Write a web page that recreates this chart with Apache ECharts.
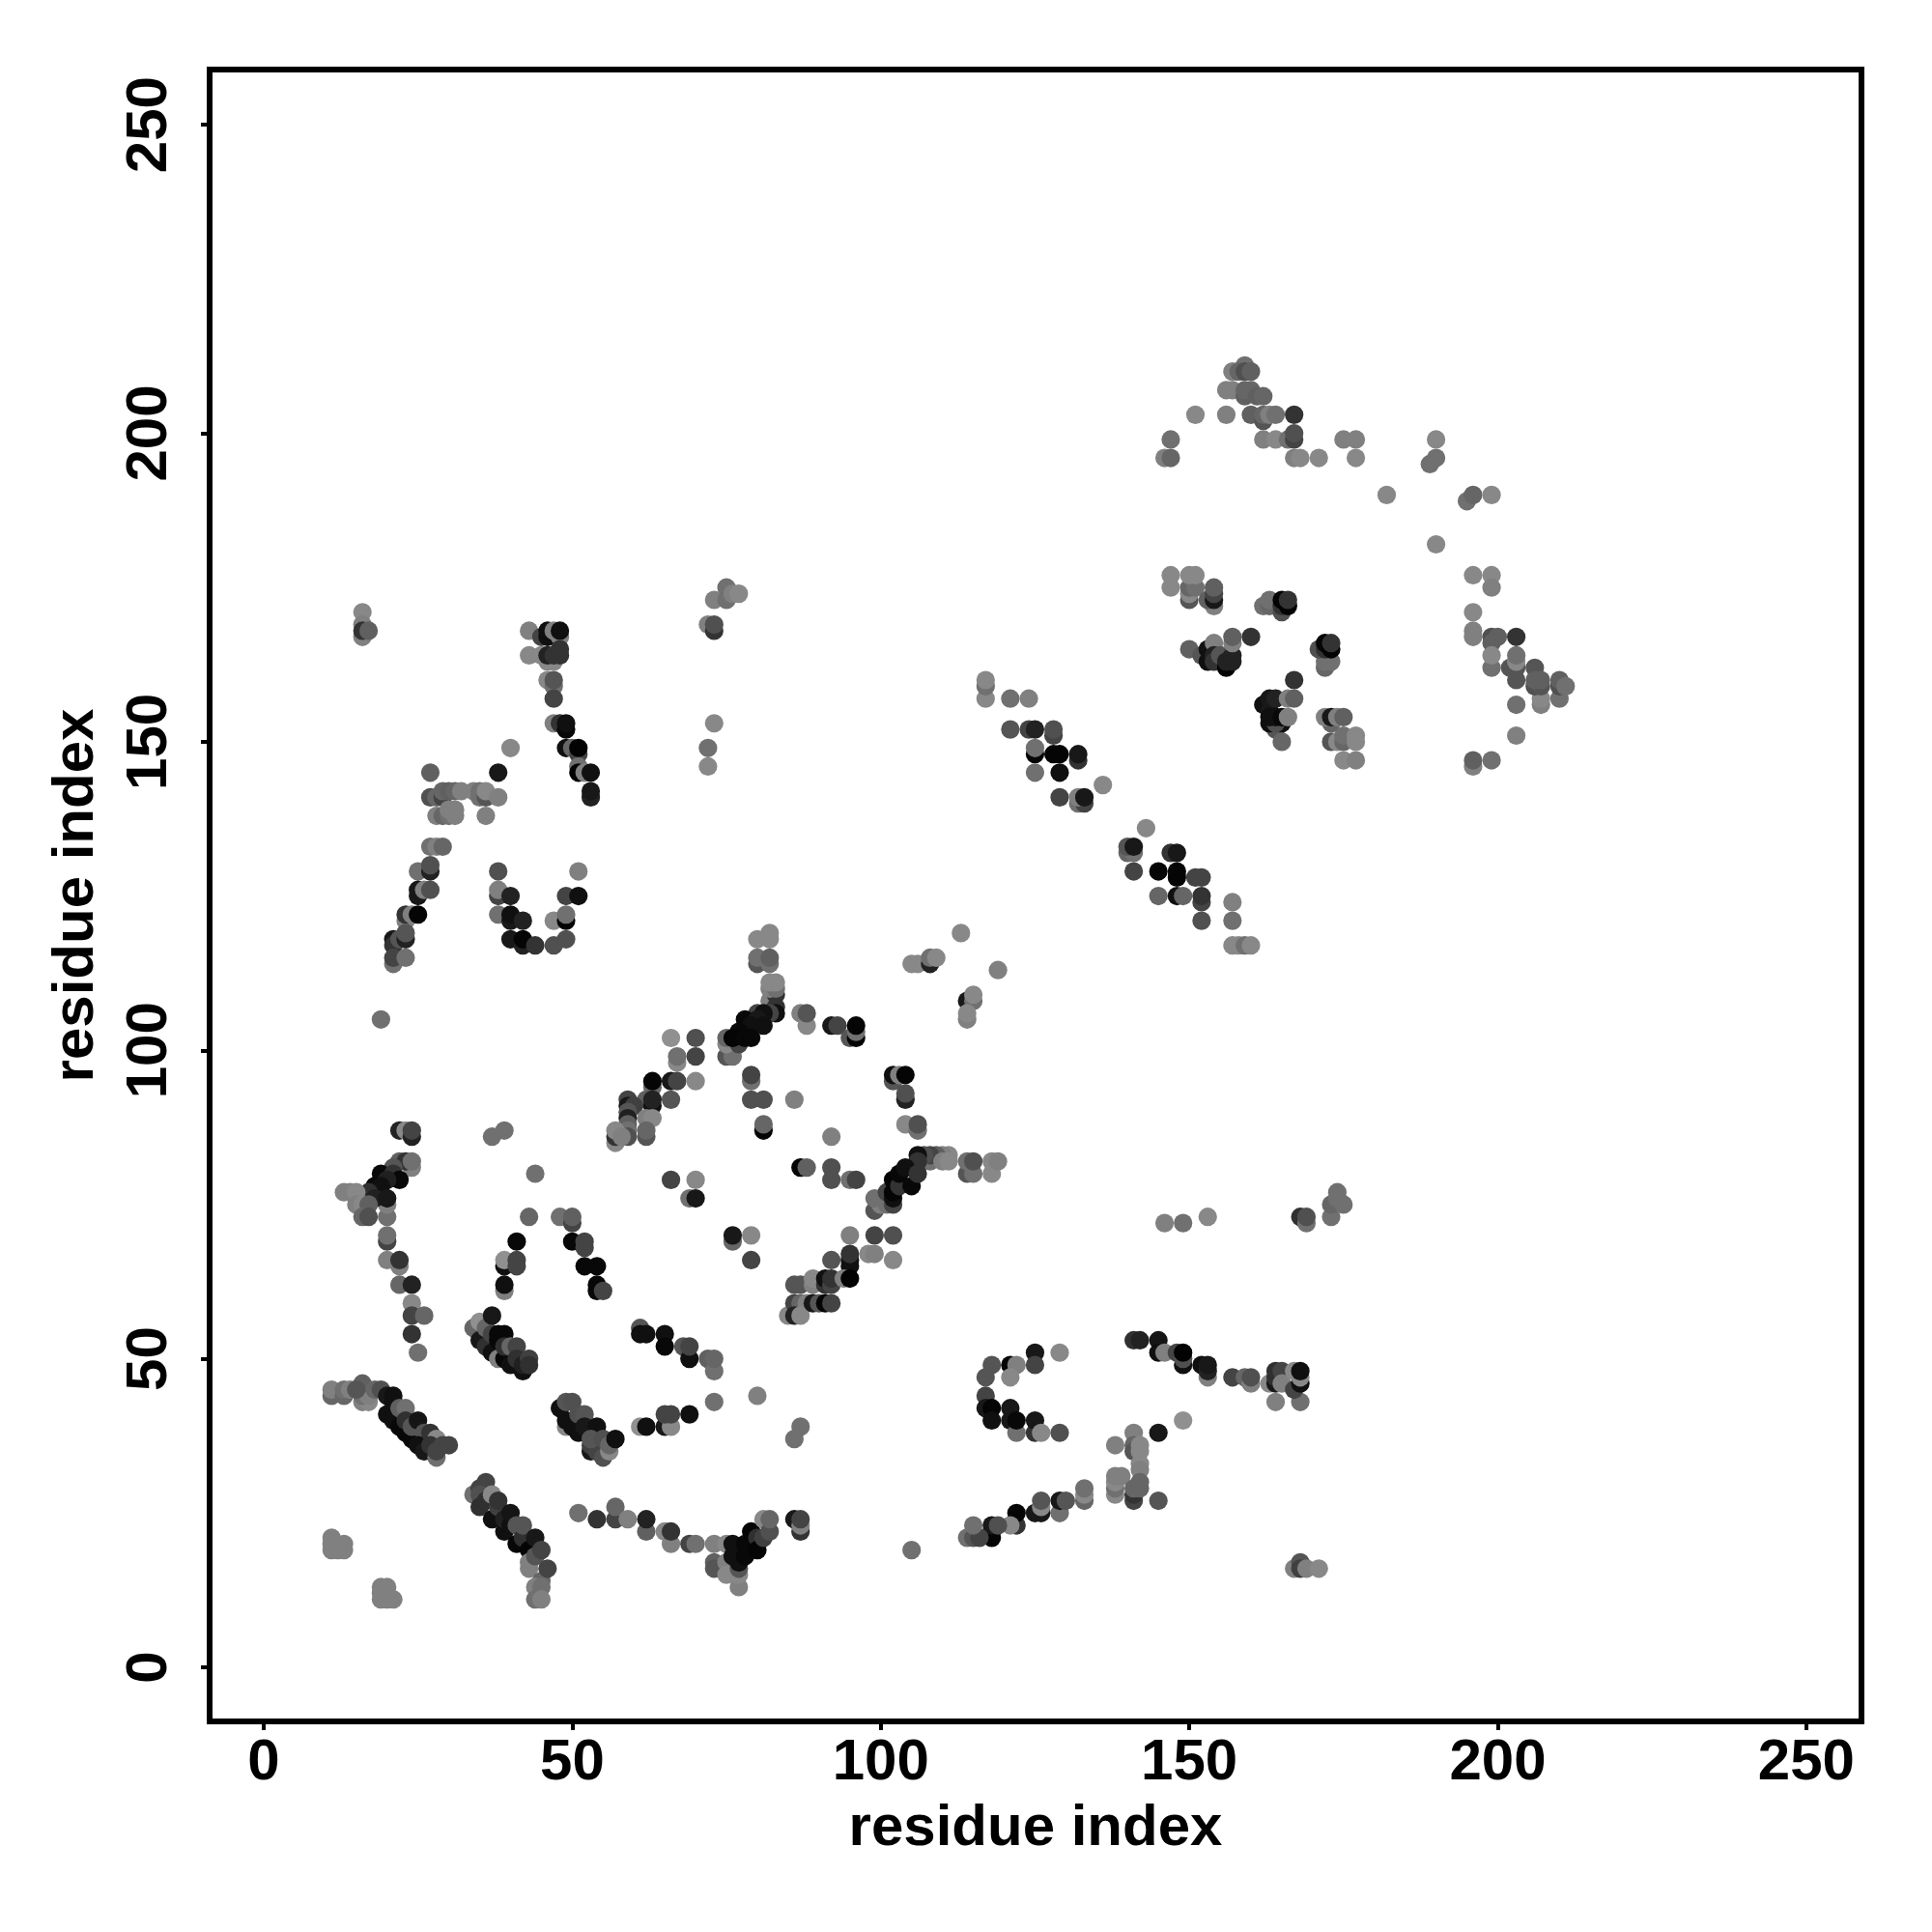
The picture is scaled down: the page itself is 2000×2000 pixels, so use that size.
<!DOCTYPE html>
<html><head><meta charset="utf-8">
<style>html,body{margin:0;padding:0;background:#fff}#c{width:2000px;height:2000px}</style>
<script src="https://cdn.jsdelivr.net/npm/echarts@6/dist/echarts.min.js"></script>
</head><body><div id="c"></div>
<script>
const xTicks = [0,50,100,150,200,250];
const yTicks = [0,50,100,150,200,250];
const axisTitle = 'residue index';
// each contact: [residue x, residue y, grey level 0-255]
const bottomLeft = [
[11,21,0x80],[11,20,0x80],[11,19,0x80],[12,19,0x80],[13,20,0x80],[13,19,0x80],
[19,13,0x80],[20,13,0x80],[19,12,0x80],[19,11,0x80],[20,11,0x80],[21,11,0x80],
[11,44,0x66],[11,45,0x80],[13,44,0x66],[13,45,0x70],[14,45,0x80],[16,43,0x80],[17,43,0x88],[16,44,0x70],[17,44,0x80],
[16,46,0x60],[15,45,0x55],[18,45,0x66],[19,45,0x50],[20,41,0x10],[21,40,0x10],[22,39,0x08],[23,38,0x08],[24,37,0x08],
[20,44,0x18],[21,44,0x10],[21,43,0x10],[22,42,0x60],[23,42,0x70],[23,40,0x30],[24,39,0x55],[25,40,0x15],[26,38,0x55],
[25,36,0x10],[26,35,0x18],[27,38,0x33],[28,37,0x88],[27,36,0x33],[28,34,0x70],[28,35,0x44],[29,36,0x44],[30,36,0x44]
];
const diagonalA = [
[34,55,0x66],[35,56,0x90],[35,53,0x18],[36,52,0x30],[36,55,0x66],[37,51,0x10],[38,50,0x80],[37,54,0x44],[38,53,0x08],[39,50,0x08],
[37,57,0x18],[38,54,0x08],[39,54,0x08],[40,49,0x10],[39,52,0x30],[40,52,0x66],[41,52,0x44],[41,50,0x30],[42,48,0x10],[42,49,0x20],[43,50,0x40],[43,49,0x30],
[48,42,0x10],[49,39,0x88],[49,40,0x10],[50,39,0x10],[49,43,0x55],[50,43,0x50],[51,38,0x10],[51,41,0x50],[52,41,0x55],[52,39,0x18],
[53,35,0x18],[53,36,0x40],[54,35,0x44],[54,39,0x10],[53,37,0x55],[55,34,0x50],[55,37,0x50],[56,35,0x88],[56,36,0x66],[57,37,0x10],
[61,55,0x55],[61,54,0x10],[62,54,0x10],[65,54,0x10],[65,52,0x08],[68,52,0x55],[69,50,0x10],[69,52,0x44],[72,50,0x60],[73,48,0x70],[73,50,0x66],
[73,43,0x70],[80,44,0x80],[61,39,0x90],[62,39,0x10],[65,39,0x18],[66,39,0x88],[65,41,0x44],[66,41,0x44],[69,41,0x10]
];
const diagonalB = [
[34,28,0x70],[35,29,0x44],[36,30,0x44],[35,28,0x50],[35,26,0x30],[36,27,0x30],[37,24,0x10],[37,28,0x88],[38,26,0x40],[38,27,0x33],
[39,22,0x10],[39,24,0x20],[40,23,0x10],[40,25,0x15],[41,20,0x08],[41,23,0x55],[42,21,0x30],[42,23,0x55],[43,19,0x05],[43,16,0x80],[43,17,0x80],
[44,21,0x18],[44,18,0x55],[45,14,0x66],[45,19,0x44],[46,16,0x44],[44,13,0x80],[45,13,0x70],[44,11,0x70],[45,11,0x80],
[51,25,0x70],[54,24,0x33],[57,24,0x44],[57,26,0x66],[59,24,0x80],[62,22,0x60],[62,24,0x22],[65,22,0x88],[66,20,0x80],[66,22,0x33],
[69,20,0x44],[70,20,0x70],[73,20,0x80],[73,17,0x60],[73,16,0x55],[75,20,0x88],[75,17,0x80],[75,15,0x88],[77,13,0x80],[77,15,0x88],[77,16,0x55],
[76,20,0x10],[76,18,0x10],[77,17,0x10],[78,20,0x08],[78,18,0x08],[79,22,0x05],[80,21,0x30],[80,19,0x05],[81,21,0x40],[81,24,0x88],[82,22,0x50],[82,24,0x66],[86,24,0x18],[87,22,0x33],[87,23,0x80],[87,24,0x44]
];
const leftArc = [
[20,73,0x70],[20,69,0x44],[20,70,0x70],[20,66,0x80],[22,65,0x80],[22,66,0x33],[22,62,0x66],[24,62,0x22],[24,59,0x88],[24,57,0x44],[26,57,0x66],[24,54,0x33],[25,51,0x70],
[39,61,0x80],[39,62,0x10],[39,65,0x10],[39,66,0x90],[41,65,0x44],[41,66,0x44],[41,69,0x08],[43,73,0x66],[44,80,0x70],
[48,73,0x70],[50,72,0x44],[50,73,0x60],[50,69,0x08],[52,68,0x44],[52,69,0x44],[52,65,0x08],[54,65,0x08],[54,62,0x08],[54,61,0x08],[55,61,0x44],
[37,86,0x70],[39,87,0x70],
[22,87,0x22],[23,87,0x88],[24,86,0x22],[24,87,0x44],[24,81,0x80],[22,82,0x60],[23,82,0x33],[24,82,0x70],[21,81,0x55],[19,80,0x08],[21,80,0x33],
[22,79,0x08],[20,79,0x20],[18,78,0x08],[19,78,0x10],[17,77,0x30],[13,77,0x80],[14,77,0x80],[15,77,0x88],[20,75,0x80],[18,76,0x20],[20,76,0x18],
[15,75,0x80],[16,75,0x88],[17,75,0x60],[16,73,0x66],[17,73,0x50],
[19,105,0x70]
];
const centreRing = [
[66,102,0x90],[70,102,0x50],[67,98,0x88],[67,99,0x70],[70,99,0x44],[63,94,0x66],[63,95,0x05],[66,95,0x18],[67,95,0x44],[70,95,0x88],[66,92,0x55],
[62,92,0x60],[63,91,0x10],[63,92,0x22],[59,92,0x44],[59,91,0x18],[60,91,0x40],[59,90,0x55],[62,89,0x80],[63,89,0x88],[59,89,0x20],[59,88,0x60],
[62,86,0x55],[62,87,0x66],[59,87,0x70],[59,86,0x50],[57,85,0x88],[57,86,0x33],[57,87,0x88],[58,86,0x80],
[80,118,0x88],[82,119,0x88],[82,118,0x88],[80,114,0x55],[80,115,0x70],[82,114,0x70],[82,115,0x60],
[82,108,0x80],[83,107,0x33],[83,109,0x33],[82,110,0x80],[83,110,0x70],[82,111,0x88],[83,111,0x88],[83,106,0x10],[82,106,0x44],[80,106,0x44],[81,106,0x10],
[78,105,0x08],[80,105,0x18],[79,104,0x10],[81,104,0x10],[75,99,0x55],[76,99,0x70],[75,101,0x88],[77,101,0x44],[75,102,0x66],[77,103,0x08],[76,102,0x05],[78,102,0x08],[79,102,0x08],
[87,106,0x80],[88,104,0x88],[88,106,0x55],[92,104,0x18],[93,104,0x44],[95,102,0x55],[96,102,0x05],[96,103,0x70],[96,104,0x05],
[79,95,0x70],[79,96,0x44],[79,92,0x50],[81,92,0x50],[86,92,0x80],[81,87,0x05],[81,88,0x66],[92,86,0x80],
[102,95,0x55],[102,96,0x10],[103,96,0x80],[104,96,0x05],[104,92,0x22],[104,93,0x50],[104,88,0x88],[106,87,0x70],[106,88,0x50],
[111,83,0x88],[110,83,0x80],[109,83,0x60],[108,82,0x70],[108,83,0x44],[107,83,0x50],[110,82,0x80],[111,82,0x88],[106,83,0x10],[106,82,0x33],
[114,80,0x55],[115,80,0x70],[114,82,0x70],[115,82,0x50],[118,80,0x88],[118,82,0x88],[119,82,0x80],
[99,74,0x55],[100,75,0x80],[99,76,0x70],[101,75,0x70],[102,75,0x44],[101,77,0x44],[102,76,0x10],[102,77,0x05],[102,79,0x05],[103,78,0x33],[103,80,0x08],[104,81,0x10],[105,78,0x08],[106,80,0x33],
[87,81,0x05],[88,81,0x60],[92,79,0x50],[92,81,0x50],[95,79,0x70],[96,79,0x44],[66,79,0x44],[70,79,0x88],[69,76,0x70],[70,76,0x18],
[76,69,0x66],[76,70,0x18],[79,70,0x88],[79,66,0x44],
[95,70,0x80],[99,70,0x44],[102,70,0x50],[98,67,0x88],[99,67,0x80],[102,66,0x88],[92,66,0x55],[95,65,0x10],[95,66,0x10],[95,67,0x33],
[86,62,0x55],[87,62,0x55],[89,62,0x80],[89,63,0x88],[91,62,0x33],[91,63,0x10],[92,62,0x44],[92,63,0x33],[94,63,0x80],[95,63,0x03],
[85,57,0x88],[86,59,0x44],[87,59,0x66],[88,59,0x80],[86,57,0x22],[87,57,0x88],[89,59,0x18],[90,59,0x55],[91,59,0x05],[92,59,0x44],[87,39,0x70],[86,37,0x70]
];
const lowerRight = [
[105,19,0x70],[125,51,0x18],[129,51,0x88],[118,49,0x55],[121,49,0x05],[122,49,0x80],[125,49,0x44],[117,47,0x55],[121,47,0x88],
[117,44,0x44],[117,42,0x18],[118,42,0x05],[118,40,0x10],[121,40,0x18],[121,42,0x18],[122,38,0x70],[122,40,0x08],[125,38,0x33],[125,40,0x18],[126,38,0x88],[129,38,0x50],
[149,40,0x90],[145,38,0x18],[141,38,0x80],[138,36,0x80],[141,36,0x66],[141,35,0x55],[142,36,0x88],[142,35,0x88],[142,33,0x88],[142,32,0x80],
[138,28,0x88],[138,29,0x70],[138,30,0x88],[138,31,0x80],[139,31,0x80],[141,27,0x44],[141,28,0x33],[141,29,0x66],[142,29,0x66],[142,30,0x66],[145,27,0x55],
[133,27,0x66],[133,28,0x88],[133,29,0x70],[129,25,0x70],[129,27,0x18],[130,27,0x55],[125,25,0x18],[126,25,0x18],[126,26,0x88],[126,27,0x55],
[122,23,0x33],[122,25,0x05],[121,23,0x88],[118,22,0x44],[118,21,0x05],[118,23,0x18],[119,23,0x50],[114,21,0x70],[115,21,0x55],[116,21,0x44],[115,23,0x70],
[141,53,0x30],[142,53,0x22],[145,53,0x15],[145,51,0x10],[146,51,0x80],[148,51,0x44],[149,49,0x10],[149,50,0x50],[149,51,0x03],
[153,47,0x80],[152,49,0x10],[153,48,0x22],[153,49,0x18],[157,47,0x44],[159,47,0x66],[160,46,0x80],[160,47,0x50],
[163,46,0x88],[164,46,0x18],[164,47,0x30],[164,48,0x30],[165,48,0x44],[165,46,0x80],[164,43,0x80],[168,43,0x70],[167,45,0x44],[167,48,0x88],[168,46,0x10],[168,47,0x88],[168,48,0x10],
[146,72,0x80],[149,72,0x70],[153,73,0x88],[168,73,0x30],[169,72,0x70],[169,73,0x50],[173,73,0x70],[173,75,0x66],[174,76,0x70],[174,77,0x70],[175,75,0x70],
[167,16,0x80],[168,17,0x55],[168,16,0x40],[169,16,0x80],[171,16,0x88]
];
const upperLeft = [
[16,171,0x88],[16,169,0x80],[16,167,0x80],[16,168,0x33],[17,168,0x60],
[43,168,0x80],[45,167,0x44],[46,167,0x10],[46,168,0x10],[47,168,0x80],[48,167,0x80],[48,168,0x10],[43,164,0x88],[46,163,0x88],[47,163,0x88],[45,164,0x88],[46,164,0x22],[47,164,0x33],[48,164,0x33],[48,165,0x33],
[46,160,0x88],[47,159,0x70],[47,160,0x55],[47,157,0x44],[47,153,0x80],[48,153,0x33],[49,152,0x08],[49,153,0x10],
[49,149,0x10],[50,149,0x66],[51,148,0x44],[51,149,0x03],[51,146,0x70],[51,145,0x03],[52,145,0x80],[53,145,0x10],[53,141,0x22],[53,142,0x18],
[40,149,0x88],[73,173,0x80],[75,173,0x70],[75,175,0x70],[76,174,0x80],[77,174,0x88],[72,169,0x80],[73,168,0x33],[73,169,0x50],[73,153,0x88],[72,149,0x70],[72,146,0x88],
[38,145,0x18],[27,145,0x60],
[27,141,0x50],[28,141,0x66],[29,141,0x44],[29,142,0x66],[30,142,0x60],[31,142,0x66],[32,142,0x80],[34,142,0x80],[35,141,0x70],[35,142,0x70],[36,141,0x55],[36,142,0x88],[38,141,0x80],
[28,138,0x80],[29,138,0x66],[30,138,0x70],[31,138,0x80],[30,139,0x80],[31,139,0x80],[36,138,0x80],
[27,133,0x70],[28,133,0x80],[29,133,0x66],[25,129,0x70],[27,129,0x22],[27,130,0x50],[25,125,0x18],[25,126,0x18],[26,126,0x80],[27,126,0x50],
[23,121,0x80],[23,122,0x33],[24,122,0x80],[25,122,0x05],[21,118,0x18],[21,117,0x33],[22,118,0x55],[23,118,0x22],[23,119,0x55],[21,114,0x70],[21,115,0x44],[23,115,0x70],
[38,129,0x50],[51,129,0x80],[38,125,0x44],[38,126,0x80],[40,125,0x22],[49,125,0x44],[51,125,0x10],
[38,122,0x70],[40,121,0x18],[40,122,0x10],[42,121,0x22],[47,121,0x88],[49,121,0x05],[49,122,0x70],[40,118,0x18],[42,117,0x22],[42,118,0x05],[44,117,0x33],[47,117,0x50],[49,118,0x50]
];
const midRight = [
[113,119,0x88],[105,114,0x88],[106,114,0x88],[108,114,0x22],[108,115,0x70],[109,115,0x88],[119,113,0x80],[114,108,0x18],[115,108,0x70],[115,109,0x88],[114,105,0x80],[114,106,0x88],
[117,157,0x88],[117,159,0x70],[117,160,0x88],[121,157,0x70],[124,157,0x80],[121,152,0x55],[124,152,0x44],[125,152,0x22],[128,151,0x44],[128,152,0x50],
[125,148,0x05],[125,149,0x70],[128,148,0x05],[129,148,0x05],[132,147,0x33],[132,148,0x18],[125,145,0x70],[129,145,0x10],[129,141,0x44],[132,140,0x70],[133,140,0x44],[132,141,0x80],[133,141,0x18],[136,143,0x88],
[143,136,0x88],[140,132,0x66],[141,132,0x70],[140,133,0x55],[141,133,0x18],[141,129,0x44],[147,132,0x33],[148,132,0x18],[145,129,0x05],[148,128,0x05],[148,129,0x05],[151,128,0x44],[152,128,0x44],
[145,125,0x66],[148,125,0x10],[149,125,0x66],[152,124,0x44],[152,125,0x33],[152,121,0x50],[157,124,0x80],[157,121,0x70],[157,117,0x88],[158,117,0x88],[159,117,0x70],[160,117,0x88]
];
const upperRight = [
[159,211,0x70],[157,210,0x80],[158,210,0x66],[159,210,0x50],[160,210,0x60],[156,207,0x80],[157,207,0x80],[159,206,0x60],[159,207,0x66],[160,207,0x66],[161,206,0x60],[162,206,0x66],
[151,203,0x88],[156,203,0x80],[160,203,0x60],[162,202,0x55],[162,203,0x66],[163,203,0x80],[164,203,0x70],[167,203,0x33],
[147,199,0x70],[146,196,0x80],[147,196,0x66],[162,199,0x80],[164,199,0x88],[166,199,0x70],[167,199,0x44],[167,200,0x50],[167,196,0x80],[168,196,0x88],[171,196,0x88],[175,199,0x80],[177,199,0x80],[177,196,0x88],
[189,195,0x70],[190,196,0x70],[190,199,0x88],[182,190,0x88],[195,189,0x70],[196,190,0x66],[199,190,0x88],[190,182,0x88],
[147,175,0x88],[147,177,0x88],[150,173,0x55],[150,174,0x88],[150,175,0x66],[151,175,0x70],[150,177,0x88],[151,177,0x88],[154,172,0x80],[153,173,0x60],[154,173,0x18],[154,174,0x44],[154,175,0x60],
[162,172,0x70],[163,172,0x66],[163,173,0x70],[165,171,0x50],[165,172,0x33],[165,173,0x03],[166,172,0x03],[166,173,0x33],
[150,165,0x60],[152,164,0x55],[153,165,0x10],[153,163,0x10],[154,166,0x80],[154,164,0x22],[154,163,0x33],[155,164,0x55],[156,162,0x03],[156,163,0x22],[157,163,0x22],[157,164,0x22],[157,166,0x80],[157,167,0x60],[160,167,0x33],
[172,162,0x66],[172,163,0x70],[173,163,0x70],[171,165,0x50],[172,165,0x30],[172,166,0x05],[173,165,0x03],[173,166,0x33],
[167,160,0x33],[164,152,0x55],[163,153,0x10],[165,153,0x10],[164,153,0x50],[162,156,0x10],[163,155,0x18],[163,157,0x18],[164,157,0x22],[163,154,0x10],[164,154,0x10],[165,154,0x08],[166,154,0x80],[166,157,0x80],[167,157,0x60],[165,150,0x66],
[173,153,0x66],[172,154,0x80],[173,154,0x18],[174,154,0x80],[175,154,0x60],[173,150,0x55],[174,150,0x88],[175,150,0x66],[175,151,0x70],[177,150,0x88],[177,151,0x88],[175,147,0x88],[177,147,0x80],
[196,177,0x88],[199,177,0x88],[199,175,0x80],[196,171,0x88],[196,167,0x80],[196,168,0x80],[199,167,0x50],[200,167,0x60],[199,166,0x60],[203,167,0x33],[199,162,0x70],[199,164,0x88],
[202,162,0x55],[203,160,0x55],[203,162,0x55],[203,163,0x88],[203,164,0x70],[203,156,0x70],[203,151,0x80],
[206,162,0x55],[207,156,0x80],[207,157,0x88],[206,159,0x50],[207,159,0x55],[206,160,0x60],[207,160,0x60],[210,157,0x70],[210,159,0x50],[210,160,0x60],[211,159,0x70],
[196,146,0x80],[196,147,0x60],[199,147,0x70]
];
const contacts = [...bottomLeft, ...diagonalA, ...diagonalB, ...leftArc, ...centreRing, ...lowerRight, ...upperLeft, ...midRight, ...upperRight];

const font = 'Liberation Sans';
function axis(ticks, extra){
  return Object.assign({
    type:'value', min:-8.77, max:258.95, name:axisTitle, nameLocation:'middle',
    nameTextStyle:{fontFamily:font,fontWeight:'bold',fontSize:60,color:'#000'},
    splitLine:{show:false},
    axisLine:{show:true,onZero:false,lineStyle:{color:'#000',width:6}},
    axisTick:{show:true,inside:false,length:9,customValues:ticks,lineStyle:{color:'#000',width:4}},
    axisLabel:{show:true,customValues:ticks,fontFamily:font,fontWeight:'bold',fontSize:60,color:'#000',hideOverlap:false,showMinLabel:true,showMaxLabel:true}
  },extra);
}
const chart = echarts.init(document.getElementById('c'),null,{renderer:'canvas'});
const xAxis = axis(xTicks,{nameGap:81}); xAxis.axisLabel.margin=13;
const yAxis = axis(yTicks,{nameGap:108}); yAxis.axisLabel.margin=62; yAxis.axisLabel.rotate=90; yAxis.axisLabel.verticalAlign='middle'; yAxis.axisLabel.align='center';
chart.setOption({
  animation:false, backgroundColor:'#fff',
  grid:{left:217,top:72,width:1710,height:1710,show:true,borderColor:'#000',borderWidth:6,backgroundColor:'#fff',containLabel:false},
  xAxis, yAxis,
  series:[{type:'scatter',symbol:'circle',symbolSize:19.2,data:contacts,large:false,
    encode:{x:0,y:1},
    itemStyle:{opacity:1,color:p=>{const g=p.value[2];return `rgb(${g},${g},${g})`;}}}]
});
</script></body></html>
